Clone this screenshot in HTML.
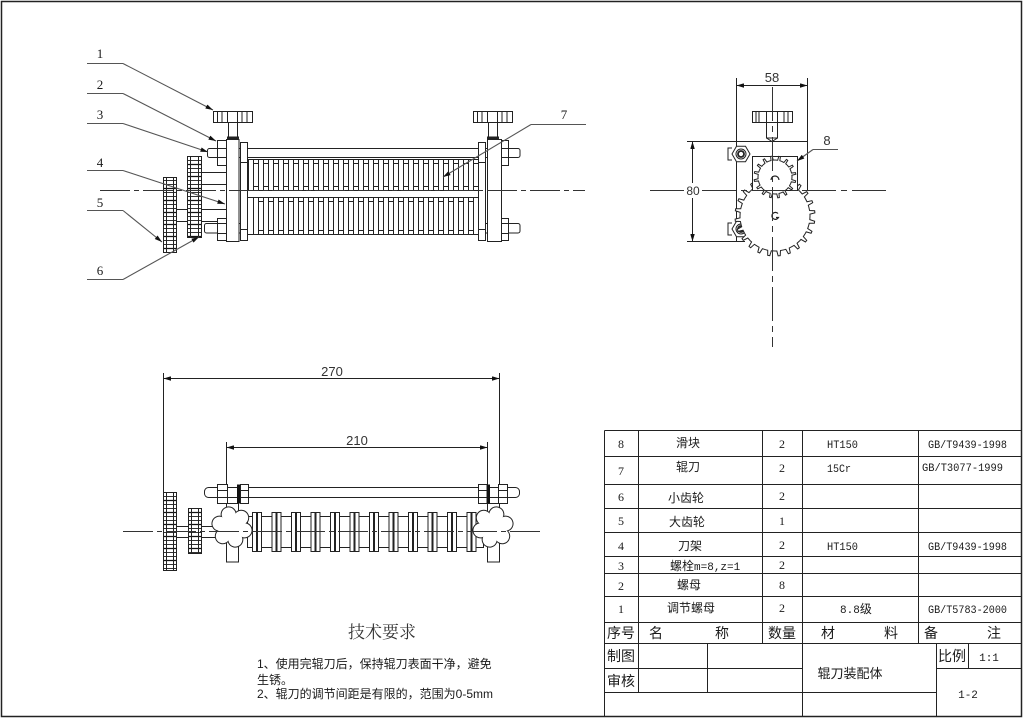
<!DOCTYPE html>
<html><head><meta charset="utf-8"><title>辊刀装配体</title>
<style>
html,body{margin:0;padding:0;background:#fff;width:1024px;height:718px;overflow:hidden;}
svg{display:block;}
.cj{font-family:"Liberation Sans","Noto Sans CJK SC",sans-serif;fill:#1a1a1a;}
.sf{font-family:"Liberation Serif","Noto Serif CJK SC",serif;fill:#1a1a1a;}
.mo{font-family:"Liberation Mono","Noto Sans CJK SC",monospace;fill:#1a1a1a;}
.dm{font-family:"Liberation Sans",sans-serif;fill:#333;}
</style></head><body>
<svg width="1024" height="718" viewBox="0 0 1024 718" xmlns="http://www.w3.org/2000/svg">
<defs>
<marker id="a" viewBox="0 0 10 6" refX="10" refY="3" markerWidth="8" markerHeight="4.5" markerUnits="userSpaceOnUse" orient="auto-start-reverse"><path d="M0,0L10,3L0,6z" fill="#111"/></marker>
<pattern id="pu" patternUnits="userSpaceOnUse" x="248" y="159" width="10" height="32"><rect x="0.5" y="0.5" width="5" height="31" fill="#fff" stroke="#222"/><path d="M5.5,4.5H10M5.5,27.5H10" stroke="#222"/></pattern>
<pattern id="pl" patternUnits="userSpaceOnUse" x="253" y="197" width="10" height="38"><rect x="0.5" y="0.5" width="5" height="37" fill="#fff" stroke="#222"/><path d="M5.5,4.5H10M5.5,33.5H10" stroke="#222"/></pattern>
<pattern id="pb" patternUnits="userSpaceOnUse" x="252" y="512" width="19.5" height="40"><rect x="0.5" y="0.5" width="4" height="39" fill="#fff" stroke="#222"/><rect x="5.5" y="0.5" width="4" height="39" fill="#fff" stroke="#222"/><path d="M9.5,4.5H19.5M9.5,35.5H19.5" stroke="#222"/></pattern>
<pattern id="st" patternUnits="userSpaceOnUse" x="0" y="0" width="20" height="12"><rect width="20" height="12" fill="#fff"/><path d="M0,0.5H20M0,4.5H20" stroke="#333" stroke-width="1"/><path d="M0,8.5H20" stroke="#111" stroke-width="1.3"/></pattern>
<path id="tb" d="M35,0L34.81,3.66L39.66,5.22L39.33,7.29L34.24,7.28L33.81,9.06" fill="#fff" stroke="#222"/>
<path id="ts" d="M17,0L16.79,2.66L20.65,3.83L20.28,5.44L16.30,4.83L15.71,6.51" fill="#fff" stroke="#222"/>
<g id="star">
 <g fill="#fff" stroke="#222" stroke-width="2"><circle r="13"/><circle cx="13" r="7"/><circle cx="6.5" cy="11.3" r="7"/><circle cx="-6.5" cy="11.3" r="7"/><circle cx="-13" r="7"/><circle cx="-6.5" cy="-11.3" r="7"/><circle cx="6.5" cy="-11.3" r="7"/></g>
 <g fill="#fff"><circle r="13"/><circle cx="13" r="7"/><circle cx="6.5" cy="11.3" r="7"/><circle cx="-6.5" cy="11.3" r="7"/><circle cx="-13" r="7"/><circle cx="-6.5" cy="-11.3" r="7"/><circle cx="6.5" cy="-11.3" r="7"/></g>
</g>
</defs>

<rect width="1024" height="718" fill="#fff"/>
<rect x="1.5" y="1.5" width="1020" height="715" fill="none" stroke="#222" stroke-width="1.5"/>

<!-- ================= FRONT VIEW ================= -->
<g stroke="#222" stroke-width="1" fill="none">
 <rect x="207.5" y="148.5" width="312.5" height="9" rx="2"/>
 <rect x="204.5" y="223.5" width="315.5" height="9.5" rx="2"/>
 <path d="M202,172.5H226M202,184.5H226M177,209.5H226M177,221.5H226"/>
 <rect x="240.5" y="159.5" width="245" height="31" fill="#fff"/>
 <rect x="248" y="159" width="235" height="32" fill="url(#pu)" stroke="none"/>
 <rect x="240.5" y="197.5" width="245" height="37" fill="#fff"/>
 <rect x="253" y="197" width="230" height="38" fill="url(#pl)" stroke="none"/>
 <path d="M240.5,159.5H485.5M240.5,190.5H485.5M240.5,197.5H485.5M240.5,234.5H485.5"/>
 <rect x="240.5" y="142.5" width="7" height="98" fill="#fff"/>
 <path d="M240.5,162.5H247.5M240.5,229.5H247.5"/>
 <rect x="478.5" y="142.5" width="7" height="98" fill="#fff"/>
 <path d="M478.5,162.5H485.5M478.5,229.5H485.5"/>
 <rect x="226.5" y="139.5" width="12.5" height="102" fill="#fff"/>
 <rect x="487.5" y="139.5" width="14" height="102" fill="#fff"/>
 <rect x="217.5" y="140.5" width="9" height="25" fill="#fff"/>
 <path d="M217.5,148.5H226.5M217.5,157.5H226.5"/>
 <rect x="217.5" y="218.5" width="9" height="22" fill="#fff"/>
 <path d="M217.5,223.5H226.5M217.5,233.5H226.5"/>
 <rect x="501.5" y="140.5" width="7" height="25" fill="#fff"/>
 <path d="M501.5,148.5H508.5M501.5,157.5H508.5"/>
 <rect x="501.5" y="218.5" width="7" height="22" fill="#fff"/>
 <path d="M501.5,223.5H508.5M501.5,233.5H508.5"/>
 <rect x="213.5" y="111.5" width="39" height="11" fill="#fff"/>
 <path d="M217.5,111.5V122.5M222,111.5V122.5M227.5,111.5V122.5M237.5,111.5V122.5M242,111.5V122.5M247,111.5V122.5"/>
 <rect x="228.5" y="122.5" width="9" height="15" fill="#fff"/>
 <rect x="473.5" y="111.5" width="39" height="11" fill="#fff"/>
 <path d="M477.5,111.5V122.5M482,111.5V122.5M487.5,111.5V122.5M497.5,111.5V122.5M502,111.5V122.5M507,111.5V122.5"/>
 <rect x="488.5" y="122.5" width="9" height="15" fill="#fff"/>
 <rect x="163.5" y="177.5" width="13" height="75" fill="url(#st)"/>
 <path d="M166.5,177.5V252.5M173.5,177.5V252.5"/>
 <rect x="187.5" y="156.5" width="14" height="81" fill="url(#st)"/>
 <path d="M190.5,156.5V237.5M198.5,156.5V237.5"/>
</g>
<rect x="227" y="136.5" width="12" height="2.5" fill="#222"/>
<rect x="487" y="136.5" width="12" height="2.5" fill="#222"/>
<line x1="100" y1="190.5" x2="585" y2="190.5" stroke="#333" stroke-width="1" stroke-dasharray="30 4 5 4"/>

<g stroke="#555" stroke-width="1.1" fill="none">
 <path d="M87,63.5H123"/><path d="M123,63.5L213,110" marker-end="url(#a)"/>
 <path d="M87,93.5H123"/><path d="M123,93.5L216,141" marker-end="url(#a)"/>
 <path d="M87,123.5H123"/><path d="M123,123.5L208,152" marker-end="url(#a)"/>
 <path d="M87,170.5H123"/><path d="M123,170.5L225,204" marker-end="url(#a)"/>
 <path d="M87,210.5H123"/><path d="M123,210.5L162,242" marker-end="url(#a)"/>
 <path d="M87,279.5H123"/><path d="M123,279.5L199,237" marker-end="url(#a)"/>
 <path d="M531,124.5H586"/><path d="M531,124.5L443,177" marker-end="url(#a)"/>
</g>
<g class="sf" font-size="13" text-anchor="middle">
 <text x="100" y="58">1</text>
 <text x="100" y="89">2</text>
 <text x="100" y="119">3</text>
 <text x="100" y="167">4</text>
 <text x="100" y="207">5</text>
 <text x="100" y="275">6</text>
 <text x="564" y="119">7</text>
</g>

<!-- ================= SIDE VIEW ================= -->
<g stroke="#222" stroke-width="1" fill="none">
 <path d="M687,141.5H807.5M736.5,78V241.5M807.5,78V190M687,241.5H745"/>
 <path d="M736.5,85.5H807.5" marker-start="url(#a)" marker-end="url(#a)"/>
 <path d="M692.5,141.5V183M692.5,198V241.5"/>
 <path d="M692.5,160V141.5" marker-end="url(#a)"/>
 <path d="M692.5,222V241.5" marker-end="url(#a)"/>
 <g transform="translate(741,154)">
  <path d="M9,0L4.5,7.8H-4.5L-9,0L-4.5,-7.8H4.5Z" fill="#fff"/>
  <circle r="5"/><circle r="3" stroke-width="1.8"/>
  <path d="M-9,-6H-13V6H-9"/>
 </g>
 <g transform="translate(741,229)">
  <path d="M9,0L4.5,7.8H-4.5L-9,0L-4.5,-7.8H4.5Z" fill="#fff"/>
  <circle r="5"/><circle r="3" stroke-width="1.8"/>
  <path d="M-9,-6H-13V6H-9"/>
 </g>
 <rect x="752.5" y="111.5" width="40" height="11" fill="#fff"/>
 <path d="M756,111.5V122.5M759,111.5V122.5M766.5,111.5V122.5M777.5,111.5V122.5M784,111.5V122.5M788,111.5V122.5"/>
 <rect x="766.5" y="122.5" width="11" height="15.5" fill="#fff"/>
 <path d="M766.5,138L772,141.5L777.5,138"/>
</g>
<g transform="translate(775,216)">
 <circle r="35" fill="#fff"/>
 <use href="#tb"/><use href="#tb" transform="rotate(15)"/><use href="#tb" transform="rotate(30)"/><use href="#tb" transform="rotate(45)"/>
 <use href="#tb" transform="rotate(60)"/><use href="#tb" transform="rotate(75)"/><use href="#tb" transform="rotate(90)"/><use href="#tb" transform="rotate(105)"/>
 <use href="#tb" transform="rotate(120)"/><use href="#tb" transform="rotate(135)"/><use href="#tb" transform="rotate(150)"/><use href="#tb" transform="rotate(165)"/>
 <use href="#tb" transform="rotate(180)"/><use href="#tb" transform="rotate(195)"/><use href="#tb" transform="rotate(210)"/><use href="#tb" transform="rotate(225)"/>
 <use href="#tb" transform="rotate(240)"/><use href="#tb" transform="rotate(255)"/><use href="#tb" transform="rotate(270)"/><use href="#tb" transform="rotate(285)"/>
 <use href="#tb" transform="rotate(300)"/><use href="#tb" transform="rotate(315)"/><use href="#tb" transform="rotate(330)"/><use href="#tb" transform="rotate(345)"/>
 <path d="M3,-2.5A3.5,3.5 0 1 0 3.5,1.5H1" fill="none" stroke="#222" stroke-width="1.2"/>
</g>
<rect x="752.5" y="156.5" width="45" height="34" fill="#fff" stroke="#222"/>
<g transform="translate(775,177)">
 <circle r="17" fill="#fff"/>
 <use href="#ts"/><use href="#ts" transform="rotate(22.5)"/><use href="#ts" transform="rotate(45)"/><use href="#ts" transform="rotate(67.5)"/>
 <use href="#ts" transform="rotate(90)"/><use href="#ts" transform="rotate(112.5)"/><use href="#ts" transform="rotate(135)"/><use href="#ts" transform="rotate(157.5)"/>
 <use href="#ts" transform="rotate(180)"/><use href="#ts" transform="rotate(202.5)"/><use href="#ts" transform="rotate(225)"/><use href="#ts" transform="rotate(247.5)"/>
 <use href="#ts" transform="rotate(270)"/><use href="#ts" transform="rotate(292.5)"/><use href="#ts" transform="rotate(315)"/><use href="#ts" transform="rotate(337.5)"/>
 <path d="M-4,3A4,4 0 1 1 4,3" fill="none" stroke="#222" stroke-width="1.2"/>
</g>
<g stroke="#333" stroke-width="1" stroke-dasharray="34 5 6 5">
 <line x1="650" y1="190.5" x2="686" y2="190.5"/>
 <line x1="702" y1="190.5" x2="890" y2="190.5"/>
 <line x1="772.5" y1="87" x2="772.5" y2="347"/>
</g>
<g stroke="#555" stroke-width="1.1" fill="none">
 <path d="M813,149.5H838"/><path d="M813,149.5L797,161" marker-end="url(#a)"/>
</g>
<text class="dm" x="827" y="145" font-size="13" text-anchor="middle">8</text>
<text class="dm" x="772" y="82" font-size="13" text-anchor="middle">58</text>
<text class="dm" x="693" y="195" font-size="12" text-anchor="middle">80</text>

<!-- ================= BOTTOM VIEW ================= -->
<g stroke="#222" stroke-width="1" fill="none">
 <path d="M163.5,373V492M499.5,373V562M226.5,442V562M487.5,442V562"/>
 <path d="M163.5,378.5H499.5" marker-start="url(#a)" marker-end="url(#a)"/>
 <path d="M226.5,447.5H487.5" marker-start="url(#a)" marker-end="url(#a)"/>
 <rect x="204.5" y="487.5" width="315" height="10" rx="4"/>
 <rect x="217.5" y="484.5" width="10" height="19" fill="#fff"/>
 <rect x="240.5" y="484.5" width="8" height="19" fill="#fff"/>
 <rect x="478.5" y="484.5" width="8.5" height="19" fill="#fff"/>
 <rect x="498.5" y="484.5" width="9" height="19" fill="#fff"/>
 <path d="M217.5,490.5H227.5M217.5,497.5H227.5M240.5,490.5H248.5M240.5,497.5H248.5M478.5,490.5H487M478.5,497.5H487M498.5,490.5H507.5M498.5,497.5H507.5"/>
 <rect x="226.5" y="503.5" width="12" height="58.5" fill="#fff"/>
 <rect x="487.5" y="503.5" width="12" height="58.5" fill="#fff"/>
 <rect x="247.5" y="516.5" width="236" height="31" fill="#fff"/>
 <rect x="252" y="512" width="231" height="40" fill="url(#pb)" stroke="none"/>
 <path d="M176.5,526.5H216M176.5,537.5H216"/>
 <rect x="163.5" y="492.5" width="13" height="78" fill="url(#st)"/>
 <path d="M166.5,492.5V570.5M173.5,492.5V570.5"/>
 <rect x="188.5" y="508.5" width="13" height="45" fill="url(#st)"/>
 <path d="M191.5,508.5V553.5M198.5,508.5V553.5"/>
</g>
<rect x="237" y="484.5" width="3" height="19" fill="#111"/>
<rect x="487" y="484.5" width="3" height="19" fill="#111"/>
<use href="#star" transform="translate(232,527) rotate(15)"/>
<use href="#star" transform="translate(493,527) rotate(-15)"/>
<line x1="123" y1="531.5" x2="540" y2="531.5" stroke="#333" stroke-width="1" stroke-dasharray="30 4 5 4"/>
<text class="dm" x="332" y="376" font-size="13" text-anchor="middle">270</text>
<text class="dm" x="357" y="445" font-size="13" text-anchor="middle">210</text>

<!-- ================= TECH REQUIREMENTS ================= -->
<text x="382" y="638" font-size="17" text-anchor="middle" style="font-family:'Liberation Serif','Noto Serif CJK SC',serif;fill:#333">技术要求</text>
<g class="cj" font-size="12">
 <text x="257" y="668">1、使用完辊刀后，保持辊刀表面干净，避免</text>
 <text x="257" y="684">生锈。</text>
 <text x="257" y="698">2、辊刀的调节间距是有限的，范围为0-5mm</text>
</g>

<!-- ================= TABLE ================= -->
<g stroke="#222" stroke-width="1" fill="none">
 <path d="M604.5,430.5V716.5"/>
 <path d="M604.5,430.5H1021.5M604.5,456.5H1021.5M604.5,484.5H1021.5M604.5,508.5H1021.5M604.5,532.5H1021.5M604.5,556.5H1021.5M604.5,573.5H1021.5M604.5,596.5H1021.5M604.5,622.5H1021.5M604.5,643.5H1021.5"/>
 <path d="M638.5,430.5V692.5M762.5,430.5V643.5M802.5,430.5V716.5M918.5,430.5V643.5"/>
 <path d="M707.5,643.5V692.5M936.5,643.5V716.5M968.5,643.5V668.5"/>
 <path d="M604.5,668.5H802.5M936.5,668.5H1021.5M604.5,692.5H936.5"/>
</g>
<g class="sf" font-size="12" text-anchor="middle">
 <text x="621" y="448">8</text><text x="782" y="448">2</text>
 <text x="621" y="475">7</text><text x="782" y="472">2</text>
 <text x="621" y="501">6</text><text x="782" y="500">2</text>
 <text x="621" y="525">5</text><text x="782" y="525">1</text>
 <text x="621" y="550">4</text><text x="782" y="549">2</text>
 <text x="621" y="570">3</text><text x="782" y="569">2</text>
 <text x="621" y="590">2</text><text x="782" y="589">8</text>
 <text x="621" y="613">1</text><text x="782" y="612">2</text>
</g>
<g class="cj" font-size="12" text-anchor="middle">
 <text x="688" y="447">滑块</text>
 <text x="688" y="471">辊刀</text>
 <text x="686" y="502">小齿轮</text>
 <text x="687" y="526">大齿轮</text>
 <text x="690" y="550">刀架</text>
 <text x="689" y="589">螺母</text>
 <text x="691" y="612">调节螺母</text>
</g>
<text class="cj" x="670" y="570" font-size="12">螺栓<tspan class="mo" font-size="11">m=8,z=1</tspan></text>
<g class="mo" font-size="11">
 <text x="827" y="448" textLength="31" lengthAdjust="spacingAndGlyphs">HT150</text>
 <text x="928" y="448" textLength="79" lengthAdjust="spacingAndGlyphs">GB/T9439-1998</text>
 <text x="827" y="472" textLength="24" lengthAdjust="spacingAndGlyphs">15Cr</text>
 <text x="922" y="471" textLength="81" lengthAdjust="spacingAndGlyphs">GB/T3077-1999</text>
 <text x="827" y="550" textLength="31" lengthAdjust="spacingAndGlyphs">HT150</text>
 <text x="928" y="550" textLength="79" lengthAdjust="spacingAndGlyphs">GB/T9439-1998</text>
 <text x="928" y="613" textLength="79" lengthAdjust="spacingAndGlyphs">GB/T5783-2000</text>
 <text x="989" y="661" text-anchor="middle">1:1</text>
 <text x="968" y="698" text-anchor="middle">1-2</text>
</g>
<text class="cj" x="840" y="613" font-size="12"><tspan class="mo" font-size="11">8.8</tspan>级</text>
<g class="cj" font-size="14" text-anchor="middle">
 <text x="621" y="638">序号</text>
 <text x="656" y="638">名</text>
 <text x="722" y="638">称</text>
 <text x="782" y="638">数量</text>
 <text x="828" y="638">材</text>
 <text x="891" y="638">料</text>
 <text x="931" y="638">备</text>
 <text x="994" y="638">注</text>
 <text x="621" y="661">制图</text>
 <text x="621" y="686">审核</text>
 <text x="952" y="661">比例</text>
</g>
<text class="cj" x="850" y="678" font-size="13" text-anchor="middle">辊刀装配体</text>
</svg>
</body></html>
